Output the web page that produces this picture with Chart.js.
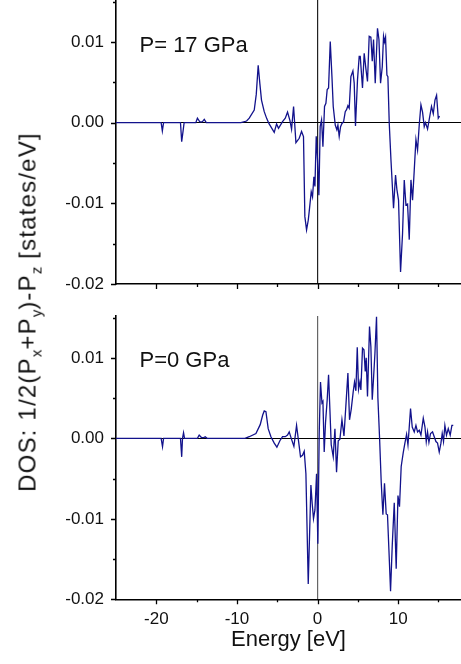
<!DOCTYPE html>
<html lang="en">
<head>
    <meta charset="UTF-8">
    <title>DOS anisotropy</title>
    <style>
        body { margin: 0; background: #fff; }
        #wrap { position: relative; width: 461px; height: 664px; overflow: hidden; font-family: "Liberation Sans", Arial, sans-serif; }
        canvas { position: absolute; left: 0; }
        #top { top: 0; }
        #bottom { top: 300px; }
        #ylabel {
            position: absolute; left: 29px; top: 312px;
            transform: translate(-50%, -50%) rotate(-90deg);
            white-space: nowrap; font-size: 24px; letter-spacing: 1.2px; color: #111;
        }
        #ylabel sub { font-size: 15px; vertical-align: -6px; letter-spacing: 0; }
    </style>
</head>
<body>
<div id="wrap">
    <canvas id="top" width="461" height="290"></canvas>
    <canvas id="bottom" width="461" height="364"></canvas>
    <div id="ylabel">DOS: 1/2(P<sub>x</sub>+P<sub>y</sub>)-P<sub>z</sub> [states/eV]</div>
</div>

<script src="https://cdn.jsdelivr.net/npm/chart.js"></script>
<script>
    // P = 17 GPa
    const energyTop = [-25, -19.4, -19.25, -19.1, -17.0, -16.85, -16.7, -16.55, -15.1, -14.9, -14.6, -14.3, -14.05, -13.8,
        -9.5, -8.8, -8.47, -7.85, -7.6, -7.36, -7.15, -6.95, -6.61, -6.3, -6.0, -5.37, -5.08, -4.84, -4.34, -4.0,
        -3.72, -3.42, -3.22, -2.97, -2.68, -2.27, -1.98, -1.74, -1.57, -1.36, -1.15, -1.03, -0.78, -0.62, -0.45,
        -0.32, -0.16, 0, 0.17, 0.33, 0.5, 0.67, 0.87, 1.04, 1.2, 1.37, 1.58, 1.79, 1.95, 2.2, 2.4, 2.53, 2.69,
        2.86, 3.03, 3.23, 3.44, 3.6, 3.77, 3.93, 4.14, 4.39, 4.55, 4.71, 4.96, 5.17, 5.3, 5.58, 5.79, 6.0, 6.2,
        6.41, 6.62, 6.79, 6.95, 7.16, 7.44, 7.62, 7.82, 8.03, 8.19, 8.31, 8.44, 8.61, 8.73, 8.9, 9.11, 9.43,
        9.68, 9.85, 10.05, 10.3, 10.55, 10.76, 10.97, 11.17, 11.38, 11.59, 11.79, 12.0, 12.21, 12.41, 12.62,
        12.83, 13.03, 13.24, 13.4, 13.65, 13.86, 14.14, 14.36, 14.57, 14.77, 14.98, 15.14];
    const dosTop = [0, 0, -0.00103, 0, 0, -0.00236, -0.0012, 0, 0, 0.00055, 0.0001, 0.0001, 0.0004, 0,
        0, 0.0002, 0.00055, 0.00157, 0.0035, 0.0071, 0.0048, 0.0028, 0.00136, 0.0005, -0.00016, -0.0012, -0.00016, -0.0007, 0.00012, 0.00055,
        0.0013, 0.00025, -0.00082, 0.002, -0.00248, -0.00194, -0.0011, -0.00173, -0.01165, -0.0133, -0.0121, -0.011, -0.00856, -0.0092, -0.0067,
        -0.0079, -0.0017, -0.0046, -0.009, -0.0005, 0.00033, -0.003, 0.002, 0.0024, 0.0041, 0.0043, 0.01004, 0.0057, 0.002, -0.0003, -0.0009, -0.0003, -0.0017,
        -0.0005, -0.0001, 0.0001, 0.00136, 0.0016, 0.0021, 0.0018, 0.0057, 0.0064, 0.0049, -0.0004, 0.0053, 0.0082, 0.0082, 0.0043, 0.0086, 0.0067, 0.0051,
        0.0107, 0.0106, 0.0076, 0.0103, 0.0049, 0.0117, 0.0103, 0.0049, 0.0069, 0.0107, 0.0100, 0.0106, 0.0059, 0.0057, -0.0001, -0.0046, -0.0106,
        -0.0065, -0.0083, -0.0096, -0.0185, -0.0137, -0.0071, -0.0102, -0.0101, -0.0145, -0.0071, -0.0096, -0.0059, -0.0021, -0.0034, -0.0003,
        0.0022, 0.0013, -0.0005, 0.0, -0.0008, 0.0004, 0.002, 0.0011, 0.0028, 0.0034, 0.00055, 0.0008];

    // P = 0 GPa
    const energyBottom = [-25, -19.4, -19.23, -19.1, -17.0, -16.85, -16.75, -16.62, -16.5, -14.9, -14.68, -14.4, -14.1, -13.93, -13.7,
        -9.0, -8.47, -7.64, -7.11, -6.8, -6.61, -6.4, -6.12, -5.78, -5.37, -5.04, -4.67, -4.34, -4.0, -3.72, -3.51,
        -3.26, -2.93, -2.6, -2.27, -2.11, -1.86, -1.65, -1.44, -1.15, -0.82, -0.66, -0.5, -0.32, -0.12, 0.04, 0.21,
        0.37, 0.55, 0.67, 0.83, 0.99, 1.2, 1.37, 1.54, 1.7, 1.95, 2.16, 2.36, 2.57, 2.78, 3.03, 3.28, 3.52, 3.77,
        3.97, 4.18, 4.43, 4.59, 4.76, 4.93, 5.09, 5.26, 5.38, 5.58, 5.76, 5.92, 6.04, 6.2, 6.45, 6.62, 6.79, 6.95,
        7.12, 7.32, 7.49, 7.7, 7.9, 8.11, 8.31, 8.52, 8.68, 8.86, 9.06, 9.27, 9.52, 9.76, 9.98, 10.17, 10.38, 10.63,
        10.84, 11.05, 11.22, 11.38, 11.54, 11.75, 12.0, 12.21, 12.41, 12.62, 12.83, 13.12, 13.33, 13.49, 13.65,
        13.82, 14.02, 14.27, 14.48, 14.69, 14.89, 15.1, 15.31, 15.47, 15.63, 15.8, 16.0, 16.22, 16.46, 16.67, 16.84];
    const dosBottom = [0, 0, -0.00105, 0, 0, -0.0023, 0, 0.0007, 0, 0, 0.0004, 0.0001, 0.0001, 0.0002, 0,
        0, 0.0002, 0.0006, 0.0017, 0.0029, 0.0034, 0.0033, 0.0012, 0.0002, -0.0006, -0.0011, -0.0003, 0.0002, 0.0002, 0.0004, 0.0008,
        0.0, -0.001, 0.0016, -0.001, -0.0023, -0.0021, -0.0016, -0.0044, -0.0181, -0.0058, -0.0081, -0.01, -0.0089, -0.0044, -0.0131, 0.0006,
        0.007, 0.0044, 0.0046, -0.0017, 0.0019, 0.0048, 0.0079, 0.0035, -0.0008, -0.0023, 0.0012, -0.0042, -0.0003, -0.0001, 0.0023, 0.0003, 0.0041, 0.0081,
        0.0023, 0.0036, 0.0058, 0.007, 0.0059, 0.0113, 0.0061, 0.007, 0.006, 0.0112, 0.011, 0.0083, 0.01, 0.0052, 0.0139, 0.0114, 0.0048, 0.0075,
        0.0105, 0.0151, 0.005, 0.0, -0.0054, -0.0095, -0.0056, -0.0094, -0.0095, -0.0139, -0.019, -0.0133, -0.008, -0.0162, -0.0071, -0.0085, -0.0035, -0.0018,
        -0.0006, 0.0005, -0.0008, 0.0014, 0.0037, 0.0014, 0.0008, 0.0016, 0.0008, 0.001, 0.0004, 0.0025, 0.0014, -0.0004, 0.0008,
        -0.0005, 0.0006, 0.0008, 0.0002, -0.0004, -0.0006, -0.0017, -0.0006, 0.0006, -0.0004, 0.0016, 0.0004, 0.0012, 0.0004, 0.0016, 0.0016];

    const xTickValues = [-20, -15, -10, -5, 0, 5, 10, 15];
    const yTickValues = [-0.02, -0.015, -0.01, -0.005, 0, 0.005, 0.01, 0.015];

    const isMajor = (v, step) => Math.abs(v / step - Math.round(v / step)) < 1e-6;

    // outward tick marks, long on labelled values, short in between
    const tickMarks = {
        id: 'tickMarks',
        afterDraw(chart) {
            const { ctx, chartArea, scales } = chart;
            ctx.save();
            ctx.strokeStyle = '#000';
            ctx.lineWidth = 1.3;
            ctx.beginPath();
            scales.x.ticks.forEach(t => {
                const px = Math.round(scales.x.getPixelForValue(t.value)) + 0.5;
                const len = isMajor(t.value, 10) ? 5 : 3;
                ctx.moveTo(px, chartArea.bottom);
                ctx.lineTo(px, chartArea.bottom + len);
            });
            scales.y.ticks.forEach(t => {
                const py = Math.round(scales.y.getPixelForValue(t.value)) + 0.5;
                const len = isMajor(t.value, 0.01) ? 5 : 3;
                ctx.moveTo(chartArea.left, py);
                ctx.lineTo(chartArea.left - len, py);
            });
            ctx.stroke();
            ctx.restore();
        }
    };

    const panelLabel = {
        id: 'panelLabel',
        afterDraw(chart, args, opts) {
            const ctx = chart.ctx;
            ctx.save();
            ctx.font = '22px "Liberation Sans", Arial, sans-serif';
            ctx.fillStyle = '#111';
            ctx.textBaseline = 'alphabetic';
            ctx.fillText(opts.text, opts.x, opts.y);
            ctx.restore();
        }
    };

    function makePanel(canvasId, energy, dos, label, labelY, showX, vColor) {
        const points = energy.map((e, i) => ({ x: e, y: dos[i] }));
        return new Chart(document.getElementById(canvasId), {
            type: 'line',
            data: {
                datasets: [{
                    data: points,
                    borderColor: '#12128c',
                    borderWidth: 1.3,
                    pointRadius: 0,
                    tension: 0,
                    fill: false
                }]
            },
            plugins: [tickMarks, panelLabel],
            options: {
                responsive: false,
                animation: false,
                events: [],
                layout: { padding: { top: showX ? 16 : 0, right: 0, left: 0, bottom: 0 } },
                plugins: {
                    legend: { display: false },
                    tooltip: { enabled: false },
                    panelLabel: { text: label, x: 139.5, y: labelY }
                },
                scales: {
                    x: {
                        type: 'linear',
                        min: -25,
                        max: 17.8,
                        afterBuildTicks: s => { s.ticks = xTickValues.map(v => ({ value: v })); },
                        afterFit: s => {
                            s.height = showX ? 64.7 : 6;
                            s.paddingLeft = 0;
                            s.paddingRight = 0;
                        },
                        border: { display: true, color: '#000', width: 1.6 },
                        grid: {
                            drawTicks: false,
                            color: c => (c.tick && c.tick.value === 0) ? vColor : 'rgba(0,0,0,0)',
                            lineWidth: 1.2
                        },
                        ticks: {
                            display: showX,
                            padding: 10,
                            color: '#111',
                            font: { family: '"Liberation Sans", Arial, sans-serif', size: 17 },
                            callback: v => isMajor(v, 10) ? String(v) : ''
                        },
                        title: {
                            display: showX,
                            text: 'Energy [eV]',
                            color: '#111',
                            font: { family: '"Liberation Sans", Arial, sans-serif', size: 22 },
                            padding: { top: 0, bottom: 11 }
                        }
                    },
                    y: {
                        min: -0.02,
                        max: 0.0152,
                        afterBuildTicks: s => { s.ticks = yTickValues.map(v => ({ value: v })); },
                        afterFit: s => {
                            s.width = 116;
                            s.paddingTop = 0;
                            s.paddingBottom = 0;
                        },
                        border: { display: true, color: '#000', width: 1.6 },
                        grid: {
                            drawTicks: false,
                            color: c => (c.tick && Math.abs(c.tick.value) < 1e-9) ? '#000' : 'rgba(0,0,0,0)',
                            lineWidth: 1
                        },
                        ticks: {
                            padding: 12,
                            color: '#111',
                            font: { family: '"Liberation Sans", Arial, sans-serif', size: 17 },
                            callback: v => isMajor(v, 0.01) ? v.toFixed(2).replace('-0.00', '0.00') : ''
                        }
                    }
                }
            }
        });
    }

    makePanel('top', energyTop, dosTop, 'P= 17 GPa', 52.3, false, '#222');
    makePanel('bottom', energyBottom, dosBottom, 'P=0 GPa', 66.7, true, '#666');
</script>
</body>
</html>
